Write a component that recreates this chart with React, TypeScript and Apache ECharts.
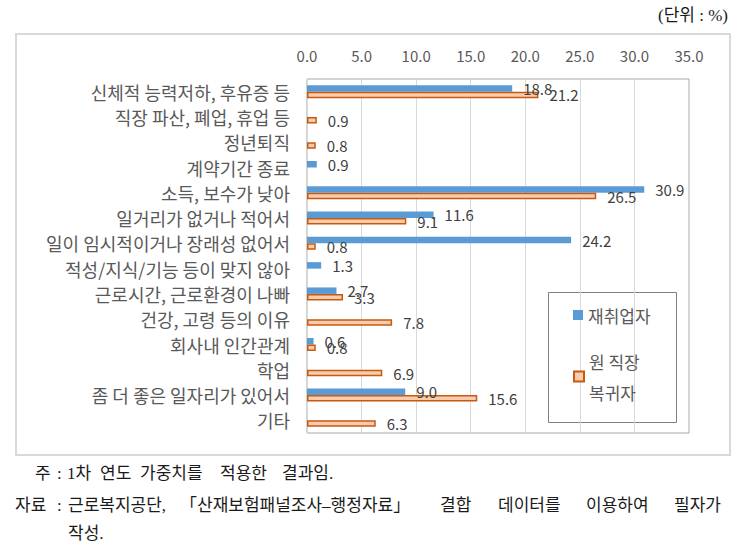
import React, { useEffect, useRef } from 'react';
import * as echarts from 'echarts';

const categories = [
  '신체적 능력저하, 후유증 등',
  '직장 파산, 폐업, 휴업 등',
  '정년퇴직',
  '계약기간 종료',
  '소득, 보수가 낮아',
  '일거리가 없거나 적어서',
  '일이 임시적이거나 장래성 없어서',
  '적성/지식/기능 등이 맞지 않아',
  '근로시간, 근로환경이 나빠',
  '건강, 고령 등의 이유',
  '회사내 인간관계',
  '학업',
  '좀 더 좋은 일자리가 있어서',
  '기타',
];

const seriesNames = ['재취업자', '원 직장 복귀자'];
const reemployed: (number | null)[] = [18.8, null, null, 0.9, 30.9, 11.6, 24.2, 1.3, 2.7, null, 0.6, null, 9.0, null];
const returnedToJob: (number | null)[] = [21.2, 0.9, 0.8, null, 26.5, 9.1, 0.8, null, 3.3, 7.8, 0.8, 6.9, 15.6, 6.3];

const axisMin = 0;
const axisMax = 35;
const axisInterval = 5;

const unitText = '(단위 : %)';
const noteLine1 = ['주', ':', '1차', '연도', '가중치를', '적용한', '결과임.'];
const noteLine2 = ['자료', ':', '근로복지공단,', '「산재보험패널조사–행정자료」', '결합', '데이터를', '이용하여', '필자가'];
const noteLine3 = ['작성.'];

const noteX1 = [35, 57, 67, 100, 140, 220, 282];
const noteX2 = [15, 57, 68, 180, 440, 498, 586, 674];
const noteX3 = [68];

const CJK = "'Noto Sans CJK KR', 'Noto Sans', sans-serif";
const SERIF = "'Liberation Serif', 'DejaVu Serif', 'Noto Sans CJK KR', serif";

export default function App() {
  const ref = useRef<HTMLDivElement>(null);
  useEffect(() => {
    if (!ref.current) return;
    const chart = echarts.init(ref.current, undefined, { renderer: 'svg' });
    const toData = (arr: (number | null)[]) => arr.map((v) => (v === null ? '-' : v));

    const noteTexts: any[] = [];
    const pushLine = (chunks: string[], xs: number[], y: number) => {
      chunks.forEach((t, i) => {
        noteTexts.push({
          type: 'text',
          x: xs[i],
          y,
          style: { text: t, fontSize: 17, fontFamily: SERIF, fill: '#1a1a1a', verticalAlign: 'middle' },
        });
      });
    };
    pushLine(noteLine1, noteX1, 473);
    pushLine(noteLine2, noteX2, 505);
    pushLine(noteLine3, noteX3, 533);

    const labelCommon = {
      show: true,
      position: 'right',
      distance: 11,
      fontSize: 15,
      color: '#404040',
      fontFamily: CJK,
      formatter: (p: any) => Number(p.value).toFixed(1),
    };

    chart.setOption({
      animation: false,
      backgroundColor: '#ffffff',
      grid: {
        left: 307,
        right: 63,
        top: 79,
        bottom: 125,
        show: true,
        borderColor: '#a6a6a6',
        borderWidth: 1,
      },
      xAxis: {
        type: 'value',
        position: 'top',
        min: axisMin,
        max: axisMax,
        interval: axisInterval,
        axisLine: { show: false },
        axisTick: { show: false },
        splitLine: { show: true, lineStyle: { color: '#d9d9d9', width: 1 } },
        axisLabel: {
          margin: 16,
          fontSize: 15,
          color: '#595959',
          fontFamily: CJK,
          formatter: (v: number) => v.toFixed(1),
        },
      },
      yAxis: {
        type: 'category',
        inverse: true,
        data: categories,
        axisLine: { show: false },
        axisTick: { show: false },
        splitLine: { show: false },
        axisLabel: { margin: 17, fontSize: 18, color: '#595959', fontFamily: CJK },
      },
      legend: [
        {
          data: [seriesNames[0]],
          left: 573,
          top: 305,
          padding: 0,
          itemWidth: 10,
          itemHeight: 10,
          icon: 'rect',
          textStyle: { fontSize: 17, lineHeight: 20, color: '#595959', fontFamily: CJK },
        },
        {
          data: [seriesNames[1]],
          left: 573,
          top: 330,
          padding: 0,
          itemWidth: 10,
          itemHeight: 10,
          icon: 'rect',
          formatter: () => '원 직장\n복귀자',
          textStyle: { fontSize: 17, lineHeight: 31, padding: [31, 0, 0, 0], color: '#595959', fontFamily: CJK },
        },
      ],
      series: [
        {
          name: seriesNames[0],
          type: 'bar',
          data: toData(reemployed),
          barWidth: 6.5,
          barGap: '0%',
          itemStyle: { color: '#5b9bd5' },
          label: labelCommon,
        },
        {
          name: seriesNames[1],
          type: 'bar',
          data: toData(returnedToJob),
          barWidth: 6.5,
          barGap: '0%',
          itemStyle: { color: '#f8cbad', borderColor: '#c55a11', borderWidth: 1.5 },
          label: labelCommon,
        },
      ],
      graphic: [
        {
          type: 'rect',
          z: -10,
          shape: { x: 16, y: 34, width: 714, height: 421 },
          style: { fill: 'none', stroke: '#d9d9d9', lineWidth: 2 },
        },
        {
          type: 'rect',
          shape: { x: 548.5, y: 292.5, width: 128, height: 130 },
          style: { fill: 'none', stroke: '#808080', lineWidth: 1 },
        },
        {
          type: 'text',
          x: 728,
          y: 15,
          style: { text: unitText, fontSize: 17, fontFamily: SERIF, fill: '#1a1a1a', align: 'right', verticalAlign: 'middle' },
        },
        ...noteTexts,
      ],
    });
    return () => chart.dispose();
  }, []);
  return (
    <div
      ref={ref}
      style={{ position: 'absolute', left: 0, top: 0, width: 752, height: 558, background: '#fff' }}
    />
  );
}
